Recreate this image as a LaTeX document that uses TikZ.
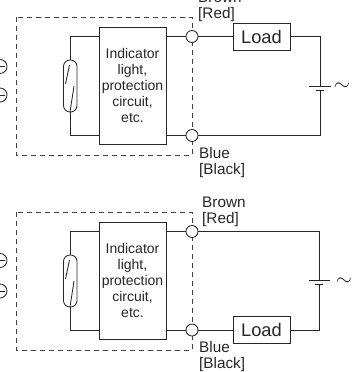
\documentclass[tikz,border=0pt]{standalone}
\usepackage{fontspec}
\setmainfont{Liberation Sans}
\tikzset{
  x=1pt,y=-1pt,
  wire/.style={line width=0.85pt,draw=black!85},
  dashbox/.style={line width=0.85pt,draw=black!75,dash pattern=on 5pt off 4pt},
  term/.style={circle,draw=black!85,line width=0.85pt,fill=white,minimum size=12pt,inner sep=0pt},
  stub/.style={term,minimum size=14pt},
  box/.style={draw=black!85,line width=0.85pt,fill=white,inner sep=0pt,align=center,font=\fontsize{14}{16}\selectfont,text=black!85},
  loadbox/.style={draw=black!85,line width=0.85pt,fill=white,inner sep=0pt,font=\fontsize{18.3}{20}\selectfont,text=black!85},
  lab/.style={font=\fontsize{15.3}{16}\selectfont,align=left,anchor=north west,inner sep=0pt,text=black!85},
  tilde/.style={font=\fontsize{20}{20}\selectfont,text=black!85,inner sep=0pt},
  capsule/.style={wire,rounded corners=6.4pt},
}
\begin{document}
\begin{tikzpicture}
\useasboundingbox (0,0) rectangle (358,372);
% top
\draw[dashbox] (16,17) rectangle (192,155);
\node[box,minimum width=67pt,minimum height=117pt] (c1) at (132.5,85.5) {Indicator\\light,\\protection\\circuit,\\etc.};
\coordinate (a1) at (70,36.5);
\coordinate (b1) at (70,135.5);
\node[term] (p1) at (192,36.5) {};
\node[term] (n1) at (192,135.5) {};
\node[loadbox,minimum width=57pt,minimum height=27pt] (l1) at (261.5,36.5) {Load};
\coordinate (r1) at (320,36.5);
\coordinate (s1) at (320,135.5);
\coordinate (bt1) at (320,86);
\coordinate (bb1) at (320,90);
\draw[wire] (c1.west |- a1) -- (a1) -- (70,60);
\draw[wire] (c1.west |- b1) -- (b1) -- (70,112);
\draw[wire] (c1.east |- p1) -- (p1);
\draw[wire] (c1.east |- n1) -- (n1);
\draw[wire] (p1) -- (l1);
\draw[wire] (l1) -- (r1) -- (bt1);
\draw[wire] (n1) -- (s1) -- (bb1);
\draw[wire] (309,86) -- (331,86);
\draw[wire] (316,90) -- (324,90);
\node[tilde] (t1) at (342,87) {$\sim$};
\draw[capsule] (63.5,60) rectangle (77,112);
\draw[wire] (65.5,84) -- (69.5,65);
\draw[wire] (70,112) -- (74,86);
\node[lab] (bn1) at (198,-8.5) {Brown\\{}[Red]};
\node[lab] (bl1) at (199,147.5) {Blue\\{}[Black]};
\node[stub] (h1) at (0,66.5) {};
\node[stub] (h2) at (0,95) {};
\draw[wire] (-3,66.5) -- (5,66.5);
\draw[wire] (-3,95) -- (5,95);
% bottom
\draw[dashbox] (16,212) rectangle (192,350);
\node[box,minimum width=67pt,minimum height=117pt] (c2) at (132.5,280.5) {Indicator\\light,\\protection\\circuit,\\etc.};
\coordinate (a2) at (70,231.5);
\coordinate (b2) at (70,330);
\node[term] (p2) at (192,231.5) {};
\node[term] (n2) at (192,330) {};
\node[loadbox,minimum width=57pt,minimum height=27pt] (l2) at (261.5,330) {Load};
\coordinate (r2) at (319,231.5);
\coordinate (s2) at (319,330);
\coordinate (bt2) at (319,280.5);
\coordinate (bb2) at (319,284.5);
\draw[wire] (c2.west |- a2) -- (a2) -- (70,255);
\draw[wire] (c2.west |- b2) -- (b2) -- (70,307);
\draw[wire] (c2.east |- p2) -- (p2);
\draw[wire] (c2.east |- n2) -- (n2);
\draw[wire] (n2) -- (l2);
\draw[wire] (p2) -- (r2) -- (bt2);
\draw[wire] (l2) -- (s2) -- (bb2);
\draw[wire] (309,280.5) -- (330,280.5);
\draw[wire] (315,284.5) -- (323,284.5);
\node[tilde] (t2) at (344,282) {$\sim$};
\draw[capsule] (63.5,255) rectangle (77,307);
\draw[wire] (65.5,279) -- (69.5,260);
\draw[wire] (70,307) -- (74,281);
\node[lab] (bn2) at (202,196.5) {Brown\\{}[Red]};
\node[lab] (bl2) at (199,341.5) {Blue\\{}[Black]};
\node[stub] (h3) at (0,260.5) {};
\node[stub] (h4) at (0,291) {};
\draw[wire] (-3,260.5) -- (5,260.5);
\draw[wire] (-3,291) -- (5,291);
\end{tikzpicture}
\end{document}
